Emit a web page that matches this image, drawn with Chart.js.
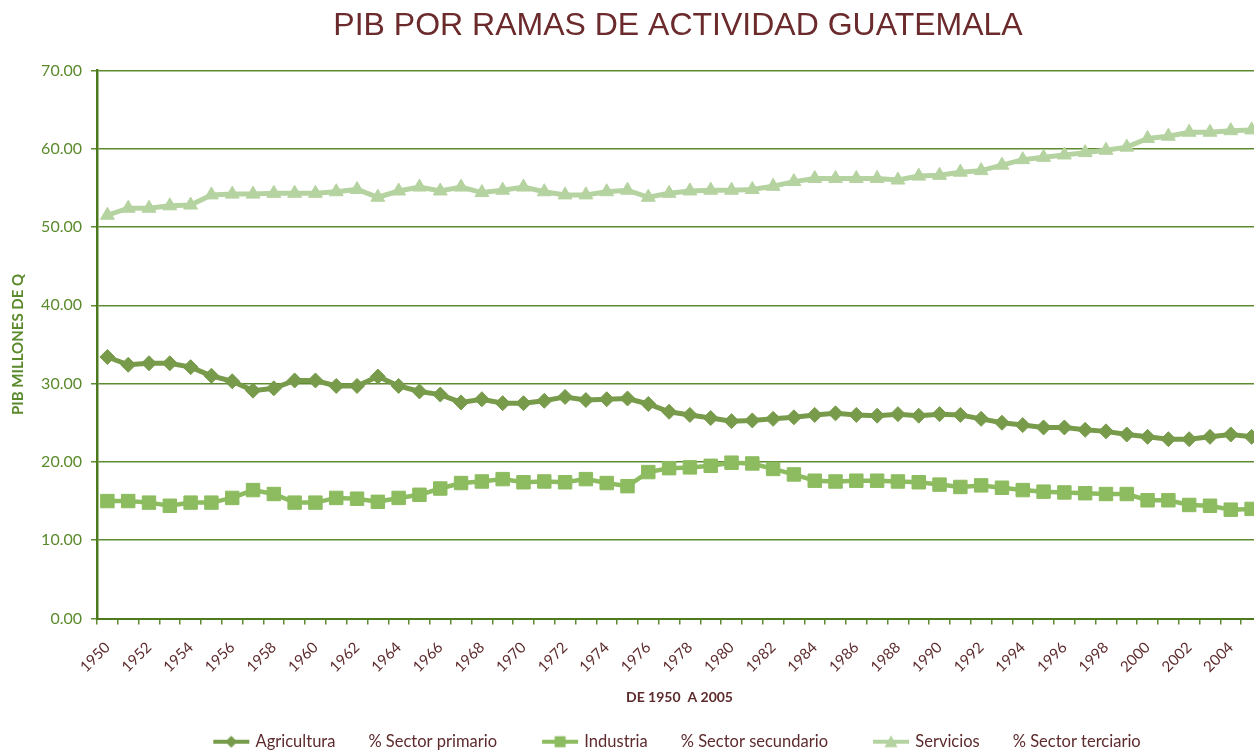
<!DOCTYPE html>
<html>
<head>
<meta charset="utf-8">
<script src="https://cdn.jsdelivr.net/npm/chart.js@4.4.1/dist/chart.umd.min.js"></script>
<style>
  html, body { margin: 0; padding: 0; overflow: hidden; background: #fff; }
</style>
</head>
<body>
<canvas id="pib" width="1356" height="760"></canvas>
<script>
const years = ["1950","1951","1952","1953","1954","1955","1956","1957","1958","1959",
  "1960","1961","1962","1963","1964","1965","1966","1967","1968","1969",
  "1970","1971","1972","1973","1974","1975","1976","1977","1978","1979",
  "1980","1981","1982","1983","1984","1985","1986","1987","1988","1989",
  "1990","1991","1992","1993","1994","1995","1996","1997","1998","1999",
  "2000","2001","2002","2003","2004","2005"];

const agricultura = [33.4, 32.4, 32.6, 32.6, 32.1, 31.0, 30.3, 29.1, 29.4, 30.4,
  30.4, 29.7, 29.7, 30.9, 29.7, 29.0, 28.6, 27.6, 28.0, 27.5,
  27.5, 27.8, 28.3, 27.9, 28.0, 28.1, 27.4, 26.4, 26.0, 25.6,
  25.2, 25.3, 25.5, 25.7, 26.0, 26.2, 26.0, 25.9, 26.1, 25.9,
  26.1, 26.0, 25.5, 25.0, 24.7, 24.4, 24.4, 24.1, 23.9, 23.5,
  23.2, 22.9, 22.9, 23.2, 23.5, 23.2];

const industria = [15.0, 15.0, 14.8, 14.4, 14.8, 14.8, 15.4, 16.4, 15.9, 14.8,
  14.8, 15.4, 15.3, 14.9, 15.4, 15.8, 16.6, 17.3, 17.5, 17.8,
  17.4, 17.5, 17.4, 17.8, 17.3, 16.9, 18.7, 19.2, 19.3, 19.5,
  19.9, 19.8, 19.1, 18.4, 17.6, 17.5, 17.6, 17.6, 17.5, 17.4,
  17.1, 16.8, 17.0, 16.7, 16.4, 16.2, 16.1, 16.0, 15.9, 15.9,
  15.1, 15.1, 14.5, 14.4, 13.9, 14.0];

const servicios = [51.5, 52.4, 52.4, 52.7, 52.8, 54.1, 54.2, 54.2, 54.3, 54.3,
  54.3, 54.5, 54.8, 53.8, 54.6, 55.1, 54.6, 55.1, 54.4, 54.7,
  55.1, 54.5, 54.1, 54.1, 54.5, 54.7, 53.8, 54.3, 54.6, 54.7,
  54.7, 54.8, 55.2, 55.8, 56.2, 56.2, 56.2, 56.2, 56.0, 56.5,
  56.6, 57.0, 57.2, 57.9, 58.6, 58.9, 59.2, 59.5, 59.8, 60.2,
  61.3, 61.6, 62.1, 62.1, 62.3, 62.4];

// Excel joined two header cells into each series name
const gap = "\u2003\u2003\u2002";
const seriesNames = ["Agricultura" + gap + "% Sector primario" + gap,
  "Industria" + gap + "% Sector secundario" + gap,
  "Servicios" + gap + "% Sector terciario"];

const colAgri = "#779b4b";
const colInd = "#8cbc5f";
const colServ = "#b5d3a0";
const maroon = "#5e2b2d";
const axisGreen = "#4e7a1e";
const gridGreen = "#5f8b30";
const tickGreen = "#5b8a2c";

// little line+marker icons for the legend
function legendIcon(color, shape) {
  const c = document.createElement("canvas");
  c.width = 38; c.height = 16;
  const g = c.getContext("2d");
  g.strokeStyle = color; g.fillStyle = color; g.lineWidth = 4;
  g.beginPath(); g.moveTo(1, 8); g.lineTo(37, 8); g.stroke();
  g.beginPath();
  if (shape === "diamond") {
    g.moveTo(19, 2); g.lineTo(25, 8); g.lineTo(19, 14); g.lineTo(13, 8);
  } else if (shape === "square") {
    g.rect(13.5, 2.5, 11, 11);
  } else {
    g.moveTo(19, 1.5); g.lineTo(25.5, 13.5); g.lineTo(12.5, 13.5);
  }
  g.closePath(); g.fill();
  return c;
}
const legendIcons = [legendIcon(colAgri, "diamond"), legendIcon(colInd, "square"), legendIcon(colServ, "triangle")];

const ctx = document.getElementById("pib").getContext("2d");
const chart = new Chart(ctx, {
  type: "line",
  data: {
    labels: years,
    datasets: [
      {
        label: seriesNames[0],
        data: agricultura,
        borderColor: colAgri, backgroundColor: colAgri,
        borderWidth: 5, tension: 0,
        pointStyle: "rectRot", pointRadius: 7.5, pointBorderWidth: 1,
        pointBackgroundColor: colAgri, pointBorderColor: colAgri
      },
      {
        label: seriesNames[1],
        data: industria,
        borderColor: colInd, backgroundColor: colInd,
        borderWidth: 4.5, tension: 0,
        pointStyle: "rect", pointRadius: 9.5, pointBorderWidth: 1,
        pointBackgroundColor: colInd, pointBorderColor: colInd
      },
      {
        label: seriesNames[2],
        data: servicios,
        borderColor: colServ, backgroundColor: colServ,
        borderWidth: 5, tension: 0,
        pointStyle: "triangle", pointRadius: 8, pointBorderWidth: 1,
        pointBackgroundColor: colServ, pointBorderColor: colServ
      }
    ]
  },
  options: {
    responsive: false,
    animation: false,
    devicePixelRatio: 1,
    layout: { padding: 0 },
    plugins: {
      title: {
        display: true,
        text: "PIB POR RAMAS DE ACTIVIDAD GUATEMALA",
        color: "#6b2a2c",
        font: { family: "'Liberation Sans', Arial, sans-serif", size: 32, weight: "normal" },
        padding: { top: 7, bottom: 25 }
      },
      legend: {
        position: "bottom",
        labels: {
          usePointStyle: true,
          pointStyleWidth: 32,
          padding: 14,
          color: maroon,
          font: { family: "Lato, sans-serif", size: 16.5 },
          generateLabels: c => Chart.defaults.plugins.legend.labels.generateLabels(c)
            .map((item, i) => Object.assign(item, { pointStyle: legendIcons[i], fontColor: maroon }))
        }
      },
      tooltip: { enabled: false }
    },
    scales: {
      x: {
        offset: true,
        grid: { display: true, drawOnChartArea: false, drawTicks: true, tickLength: 6, offset: true, color: gridGreen, lineWidth: 1.5 },
        border: { display: true, color: axisGreen, width: 2 },
        ticks: {
          autoSkip: false, maxRotation: 45, minRotation: 45, padding: 14,
          color: maroon,
          font: { family: "Lato, sans-serif", size: 15 },
          callback: (v, i) => i % 2 === 0 ? years[i] : ""
        },
        title: {
          display: true, text: "DE 1950  A 2005", color: maroon,
          font: { family: "Lato, sans-serif", size: 14, weight: "bold" },
          padding: { top: 4, bottom: 14 }
        },
        afterFit: s => { s.height = 101; }
      },
      y: {
        min: 0, max: 70,
        grid: { color: gridGreen, lineWidth: 1.5, tickLength: 6 },
        border: { display: true, color: axisGreen, width: 2.5 },
        ticks: {
          stepSize: 10, padding: 9, color: tickGreen,
          font: { family: "Lato, sans-serif", size: 16 },
          callback: v => v.toFixed(2)
        },
        title: {
          display: true, text: "PIB MILLONES DE Q", color: tickGreen,
          font: { family: "Lato, sans-serif", size: 15, weight: "bold" },
          padding: { top: 9, bottom: 4 }
        },
        afterFit: s => { s.width = 97; }
      },
      // empty right-hand axis: keeps the plot's right edge where the original had it
      spare: {
        type: "linear", position: "right",
        grid: { display: false },
        border: { display: false },
        ticks: { display: false },
        afterFit: s => { s.width = 94; }
      }
    }
  }
});
</script>
</body>
</html>
